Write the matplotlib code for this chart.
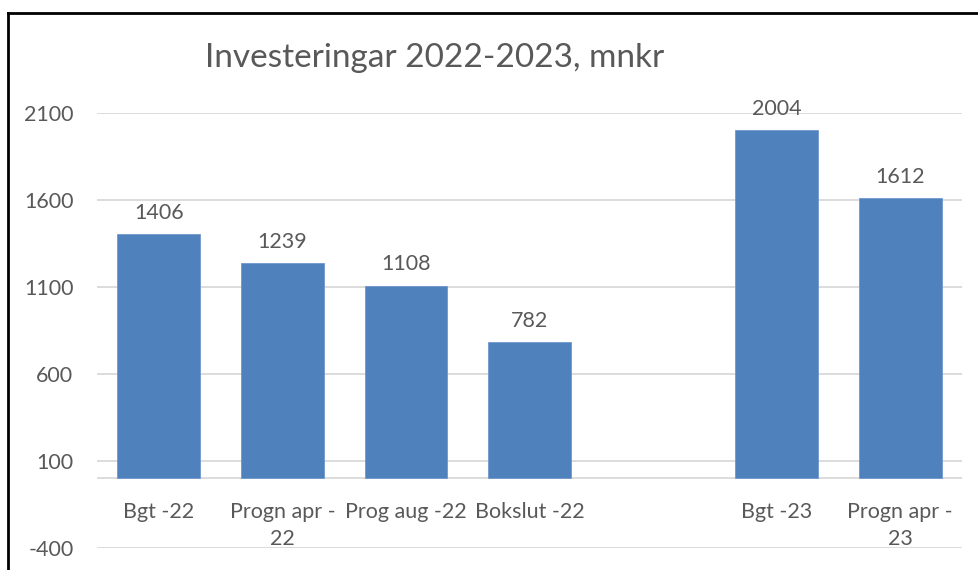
import numpy as np
import matplotlib
matplotlib.use("Agg")
import matplotlib.pyplot as plt
from matplotlib.lines import Line2D

# data (empty slot between 2022 and 2023)
categories = ["Bgt -22", "Progn apr -\n22", "Prog aug -22", "Bokslut -22", "", "Bgt -23", "Progn apr -\n23"]
values = [1406, 1239, 1108, 782, None, 2004, 1612]
yticks = [-400, 100, 600, 1100, 1600, 2100]

bar_col = "#4F81BD"
txt_col = "#595959"
grid_col = "#D9D9D9"

plt.rcParams["font.family"] = ["Lato", "DejaVu Sans"]
plt.rcParams["axes.unicode_minus"] = False

W, H = 979, 570
fig = plt.figure(figsize=(W / 100, H / 100), dpi=100)

# plot area in pixel coords
left, right, top, bottom = 97, 962, 113, 548
ax = fig.add_axes([left / W, 1 - bottom / H, (right - left) / W, (bottom - top) / H])

x = np.arange(len(categories))
xs = [i for i, v in zip(x, values) if v is not None]
hs = [v for v in values if v is not None]
bars = ax.bar(xs, hs, width=0.67, color=bar_col, edgecolor="#6E98CC", linewidth=0.6, zorder=3)

for b, v in zip(bars, hs):
    ax.annotate(str(v), (b.get_x() + b.get_width() / 2, v), xytext=(0, 8),
                textcoords="offset points", ha="center", va="bottom",
                fontsize=15.5, color=txt_col, annotation_clip=False)

ax.set_xlim(-0.5, len(categories) - 0.5)
ax.set_ylim(yticks[0], yticks[-1])
ax.set_yticks(yticks)
ax.yaxis.grid(True, color=grid_col, linewidth=1.3, zorder=0)
ax.axhline(0, color=grid_col, linewidth=1.3, zorder=1)
ax.set_axisbelow(True)
for s in ax.spines.values():
    s.set_visible(False)
ax.tick_params(axis="y", length=0, pad=17, labelsize=15.5, labelcolor=txt_col)
ax.set_xticks([])

# category labels sit under the zero line
for i, c in zip(x, categories):
    ax.text(i, -138, c, ha="center", va="top", fontsize=15.5, color=txt_col,
            linespacing=1.4, clip_on=False)

fig.text(435 / W, 1 - 58 / H, "Investeringar 2022-2023, mnkr", ha="center", va="center",
         fontsize=24, color=txt_col)

# chart frame (only top and left edges are visible in the crop)
fig.add_artist(Line2D([8 / W, 8 / W], [0, 1 - 13 / H], transform=fig.transFigure, color="black", lw=2))
fig.add_artist(Line2D([8 / W, 1], [1 - 13 / H, 1 - 13 / H], transform=fig.transFigure, color="black", lw=2))

fig.savefig("out.png", dpi=100)
